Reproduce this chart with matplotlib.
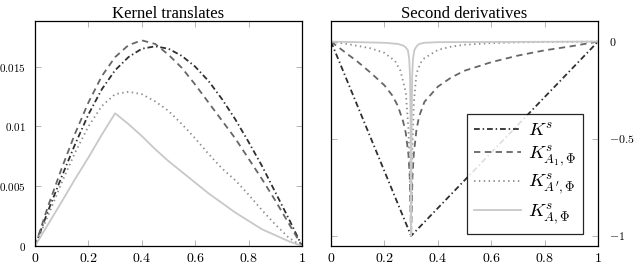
import matplotlib
matplotlib.use("Agg")
import matplotlib.pyplot as plt

plt.rcParams["font.family"] = "Liberation Serif"
plt.rcParams["mathtext.fontset"] = "cm"

# ---- data ----
# left panel: kernel translates
x_left = [0, 0.05, 0.1, 0.15, 0.2, 0.25, 0.3, 0.35, 0.4, 0.45, 0.5,
          0.55, 0.6, 0.65, 0.7, 0.75, 0.8, 0.85, 0.9, 0.95, 1]
ks_left = [0, 0.0030, 0.0058, 0.0085, 0.0110, 0.0131, 0.0147, 0.0158, 0.0165, 0.0167, 0.0165,
           0.0159, 0.0150, 0.0138, 0.0123, 0.0106, 0.0087, 0.0067, 0.0045, 0.0023, 0]
ka1_left = [0, 0.0034, 0.0065, 0.0094, 0.0120, 0.0142, 0.0158, 0.0168, 0.0172, 0.0169, 0.0160,
            0.0149, 0.0135, 0.0120, 0.0105, 0.0090, 0.0073, 0.0056, 0.0038, 0.0019, 0]
kap_left = [0, 0.0026, 0.0053, 0.0078, 0.0100, 0.0117, 0.0127, 0.0129, 0.0127, 0.0121, 0.0113,
            0.0102, 0.0090, 0.0077, 0.0065, 0.0055, 0.0043, 0.0030, 0.0018, 0.0007, 0]
ka_left = [0, 0.00185, 0.0037, 0.0056, 0.0074, 0.0093, 0.0111, 0.0102, 0.0092, 0.0081, 0.0071,
           0.0062, 0.0053, 0.0044, 0.0036, 0.0028, 0.0021, 0.0014, 0.0009, 0.0004, 0]

# right panel: second derivatives
x_ks_right = [0, 0.3, 1]
ks_right = [0, -1, 0]

x_ka1_right = [0, 0.05, 0.1, 0.15, 0.2, 0.23, 0.25, 0.27, 0.28, 0.29, 0.295, 0.3,
               0.305, 0.31, 0.32, 0.33, 0.35, 0.4, 0.45, 0.5, 0.6, 0.7, 0.8, 0.9, 1]
ka1_right = [0, -0.052, -0.104, -0.162, -0.225, -0.278, -0.33, -0.41, -0.47, -0.58, -0.70, -1.0,
             -0.70, -0.58, -0.455, -0.385, -0.31, -0.232, -0.185, -0.15, -0.106, -0.072, -0.045, -0.024, 0]

x_kap_right = [0, 0.05, 0.1, 0.15, 0.2, 0.24, 0.26, 0.28, 0.29, 0.295, 0.3,
               0.305, 0.31, 0.32, 0.335, 0.35, 0.4, 0.45, 0.5, 0.6, 0.7, 0.8, 1]
kap_right = [0, -0.01, -0.022, -0.035, -0.058, -0.10, -0.15, -0.26, -0.45, -0.65, -1.0,
             -0.55, -0.32, -0.165, -0.11, -0.085, -0.043, -0.026, -0.016, -0.008, -0.004, -0.002, 0]

x_ka_right = [0, 0.2, 0.25, 0.27, 0.28, 0.288, 0.293, 0.296, 0.298, 0.3,
              0.302, 0.304, 0.307, 0.312, 0.32, 0.33, 0.35, 0.4, 1]
ka_right = [0, -0.006, -0.012, -0.02, -0.03, -0.045, -0.09, -0.18, -0.4, -1.0,
            -0.4, -0.18, -0.09, -0.045, -0.025, -0.012, -0.006, -0.003, 0]

x_ticks = [0, 0.2, 0.4, 0.6, 0.8, 1]
x_tick_labels = ["0", "0.2", "0.4", "0.6", "0.8", "1"]
yl_ticks = [0, 0.005, 0.01, 0.015]
yl_tick_labels = ["0", "0.005", "0.01", "0.015"]
yr_ticks = [0, -0.5, -1]
yr_tick_labels = ["0", "-0.5", "-1"]

labels = [r"$K^s$", r"$K^s_{A_1,\Phi}$", r"$K^s_{A',\Phi}$", r"$K^s_{A,\Phi}$"]

# styles
st_ks = dict(color="#2f2f2f", lw=1.3, linestyle=(0, (3.2, 1.6, 0.8, 1.6)))
st_ka1 = dict(color="#666666", lw=1.3, linestyle=(0, (3.5, 2.5)))
st_kap = dict(color="#8c8c8c", lw=1.3, linestyle=(0, (0.8, 1.9)))
st_ka = dict(color="#c8c8c8", lw=1.3, linestyle="-")

fig = plt.figure(figsize=(6.4, 2.64), dpi=100)
ax1 = fig.add_axes([35 / 640, 18 / 264, 267 / 640, 225 / 264])
ax2 = fig.add_axes([331 / 640, 18 / 264, 267 / 640, 225 / 264])

ax1.plot(x_left, ks_left, **st_ks)
ax1.plot(x_left, ka1_left, **st_ka1)
ax1.plot(x_left, kap_left, **st_kap)
ax1.plot(x_left, ka_left, **st_ka)

ax2.plot(x_ks_right, ks_right, label=labels[0], **st_ks)
ax2.plot(x_ka1_right, ka1_right, label=labels[1], **st_ka1)
ax2.plot(x_kap_right, kap_right, label=labels[2], **st_kap)
ax2.plot(x_ka_right, ka_right, label=labels[3], **st_ka)

ax1.set_xlim(0, 1)
ax1.set_ylim(0, 0.01882)
ax2.set_xlim(0, 1)
ax2.set_ylim(-1.052, 0.106)

for ax in (ax1, ax2):
    ax.set_xticks(x_ticks)
    ax.set_xticklabels(["$" + s + "$" for s in x_tick_labels], fontsize=10)
    ax.tick_params(direction="in", length=4, width=0.6, color="#aaaaaa",
                   top=True, bottom=True, left=True, right=True, pad=4)
    for sp in ax.spines.values():
        sp.set_linewidth(0.9)
        sp.set_color("black")

ax1.set_yticks(yl_ticks)
ax1.set_yticklabels(["$" + s + "$" for s in yl_tick_labels], fontsize=8)
ax1.tick_params(axis="y", pad=6.5)

ax2.set_yticks(yr_ticks)
ax2.set_yticklabels(["$" + s + "$" for s in yr_tick_labels], fontsize=8.5)
ax2.tick_params(axis="y", labelleft=False, labelright=True, pad=8)

ax1.set_title("Kernel translates", fontsize=12, pad=2)
ax2.set_title("Second derivatives", fontsize=12, pad=2)

leg = ax2.legend(loc="lower right", bbox_to_anchor=(0.966, 0.03), fontsize=13.5,
                 handlelength=2.5, labelspacing=0.2, borderpad=0.4,
                 handletextpad=0.35, fancybox=False, framealpha=0.85,
                 edgecolor="black", borderaxespad=0.3)
leg.get_frame().set_linewidth(0.9)

fig.savefig("out.png", dpi=100)
